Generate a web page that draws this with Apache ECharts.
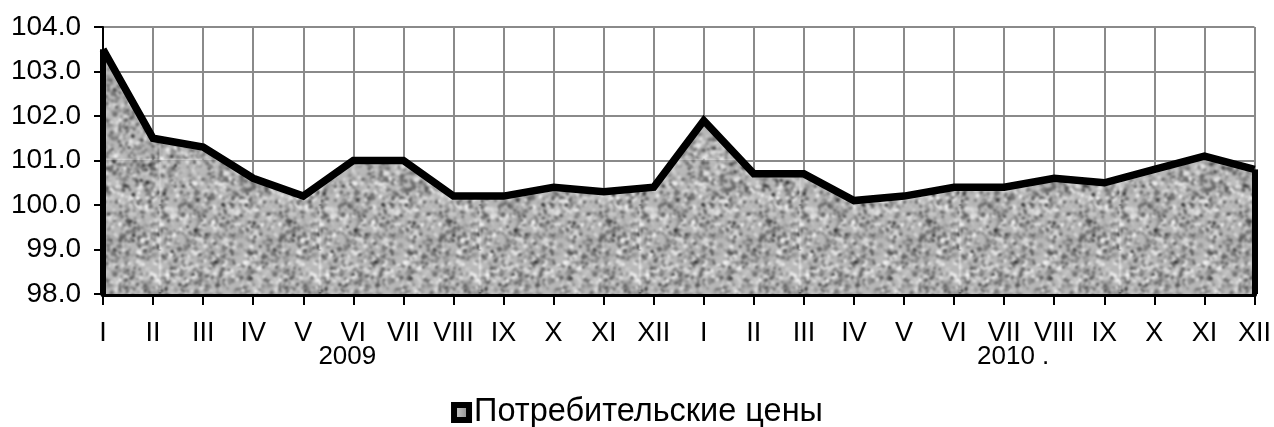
<!DOCTYPE html>
<html>
<head>
<meta charset="utf-8">
<script src="https://cdn.jsdelivr.net/npm/echarts@6/dist/echarts.min.js"></script>
<style>
html,body{margin:0;padding:0;background:#fff;}
#chart{width:1274px;height:427px;}
</style>
</head>
<body>
<div id="chart"></div>
<script>
// ---- data ----
const months = ['I','II','III','IV','V','VI','VII','VIII','IX','X','XI','XII'];
const years = ['2009','2010'];
const yearLabels = ['2009', '2010 .'];
const cpi2009 = [103.5,101.5,101.3,100.6,100.2,101.0,101.0,100.2,100.2,100.4,100.3,100.4];
const cpi2010 = [101.9,100.7,100.7,100.1,100.2,100.4,100.4,100.6,100.5,100.8,101.1,100.8];
const yMin = 98, yMax = 104, yStep = 1;
const seriesName = 'Потребительские цены';

const categories = years.flatMap(y => months.map(m => y + '-' + m));
const values = cpi2009.concat(cpi2010);
const lastIdx = values.length - 1;

// ---- grey noise texture (style only) ----
function makeTexture() {
  const size = 160;
  const c = document.createElement('canvas');
  c.width = c.height = size;
  const ctx = c.getContext('2d');
  let s = 20240607;
  const rnd = () => { s = (s * 1103515245 + 12345) & 0x7fffffff; return s / 0x7fffffff; };
  ctx.fillStyle = '#b8b8b8';
  ctx.fillRect(0, 0, size, size);
  for (let i = 0; i < 3200; i++) {
    const x = rnd() * size, y = rnd() * size, r = 0.6 + rnd() * 2.0;
    const g = Math.floor(90 + rnd() * 155);
    ctx.fillStyle = 'rgb(' + g + ',' + g + ',' + g + ')';
    for (const dx of [-size, 0, size]) for (const dy of [-size, 0, size]) {
      ctx.beginPath(); ctx.arc(x + dx, y + dy, r, 0, Math.PI * 2); ctx.fill();
    }
  }
  for (let i = 0; i < 120; i++) {
    const x = rnd() * size, y = rnd() * size, r = 0.8 + rnd() * 1.2;
    const g = Math.floor(40 + rnd() * 50);
    ctx.fillStyle = 'rgb(' + g + ',' + g + ',' + g + ')';
    for (const dx of [-size, 0, size]) for (const dy of [-size, 0, size]) {
      ctx.beginPath(); ctx.arc(x + dx, y + dy, r, 0, Math.PI * 2); ctx.fill();
    }
  }
  const c2 = document.createElement('canvas');
  c2.width = c2.height = size;
  const ctx2 = c2.getContext('2d');
  ctx2.filter = 'blur(0.9px)';
  for (const dx of [-size, 0, size]) for (const dy of [-size, 0, size]) ctx2.drawImage(c, dx, dy);
  return c2;
}
const tex = makeTexture();

const chart = echarts.init(document.getElementById('chart'), null, {renderer: 'canvas'});
const FONT = '"Liberation Sans", Arial, sans-serif';

chart.setOption({
  animation: false,
  backgroundColor: '#fff',
  grid: {left: 103, right: 17, top: 27, bottom: 133, containLabel: false},
  legend: {
    top: 391, left: 'center',
    itemWidth: 15, itemHeight: 15, itemGap: 7,
    textStyle: {fontFamily: FONT, fontSize: 32.5, color: '#000'},
    data: [{name: seriesName, icon: 'rect', itemStyle: {
      color: {type: 'linear', x: 0, y: 0, x2: 1, y2: 0, colorStops: [{offset: 0, color: '#e0e0e0'}, {offset: 1, color: '#7a7a7a'}]},
      borderColor: '#000', borderWidth: 6}}]
  },
  xAxis: {
    type: 'category',
    data: categories,
    boundaryGap: false,
    axisLine: {lineStyle: {color: '#000', width: 5}},
    axisTick: {show: true, length: 11, lineStyle: {color: '#000', width: 2}},
    splitLine: {show: true, lineStyle: {color: '#8a8a8a', width: 2}},
    axisLabel: {
      interval: 0, margin: 28,
      fontFamily: FONT, fontSize: 27, color: '#000', lineHeight: 23,
      formatter: (val, idx) => {
        const m = val.split('-')[1];
        if (idx === 5) return m + '\n{y1|' + yearLabels[0] + '}';
        if (idx === 18) return m + '\n{y2|' + yearLabels[1] + '}';
        return m;
      },
      rich: {
        y1: {fontFamily: FONT, fontSize: 26, color: '#000', lineHeight: 24, padding: [0, 12, 0, 0]},
        y2: {fontFamily: FONT, fontSize: 26, color: '#000', lineHeight: 24, padding: [0, 0, 0, 18]}
      }
    }
  },
  yAxis: {
    type: 'value',
    min: yMin, max: yMax, interval: yStep,
    axisLine: {show: true, lineStyle: {color: '#000', width: 2}},
    axisTick: {show: true, length: 9, lineStyle: {color: '#000', width: 2}},
    splitLine: {show: true, lineStyle: {color: '#8a8a8a', width: 2}},
    axisLabel: {margin: 22, fontFamily: FONT, fontSize: 28, color: '#000', formatter: v => v.toFixed(1)}
  },
  series: [{
    name: seriesName,
    type: 'line',
    data: values,
    showSymbol: false,
    symbol: 'none',
    lineStyle: {color: '#000', width: 7.5, join: 'miter', miterLimit: 10},
    itemStyle: {color: '#000'},
    areaStyle: {color: {image: tex, repeat: 'repeat'}, opacity: 1, origin: 'start'},
    markLine: {
      silent: true, symbol: ['none', 'none'], label: {show: false},
      lineStyle: {color: '#000', width: 6, type: 'solid'},
      data: [
        [{coord: [0, yMin]}, {coord: [0, values[0]]}],
        [{coord: [lastIdx, yMin]}, {coord: [lastIdx, values[lastIdx]]}]
      ]
    }
  }]
});
</script>
</body>
</html>
